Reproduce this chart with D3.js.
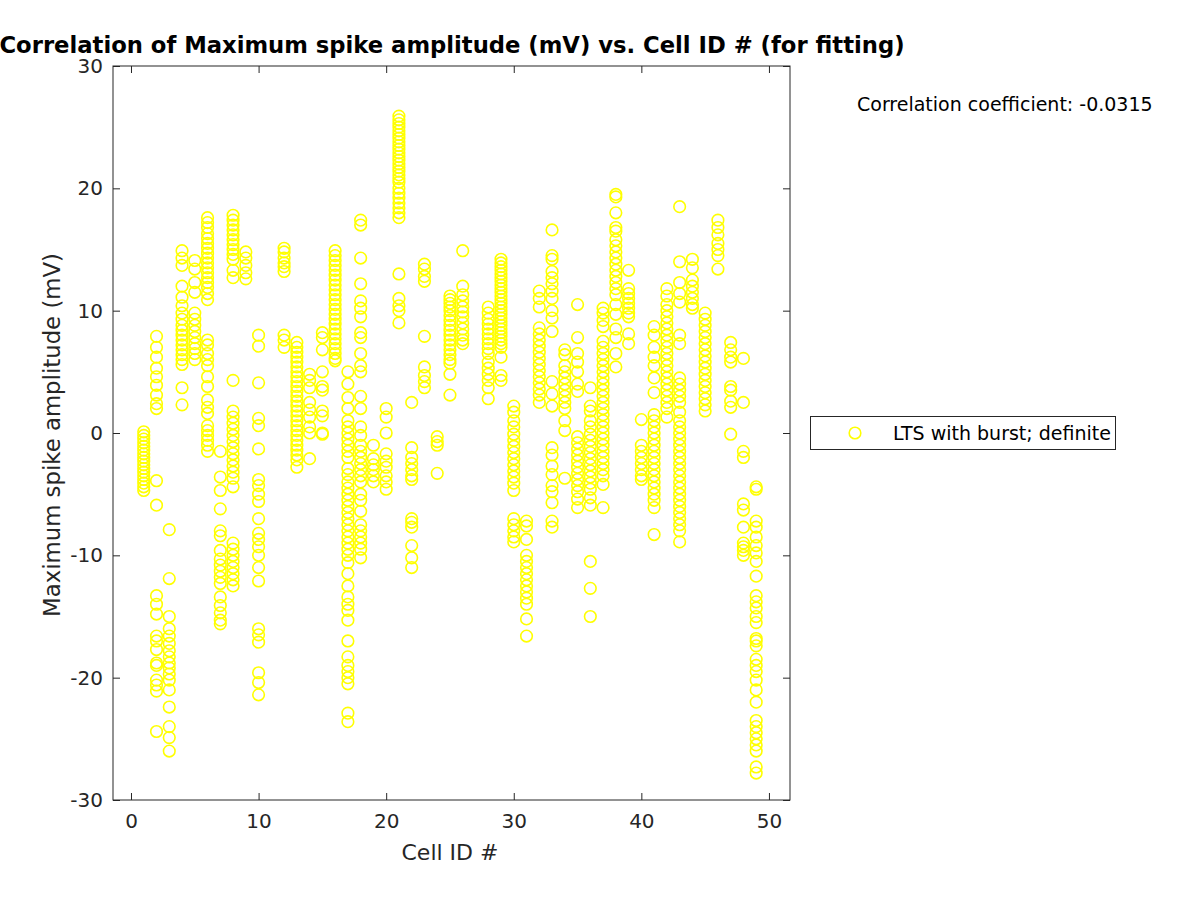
<!DOCTYPE html>
<html>
<head>
<meta charset="utf-8">
<script src="https://cdn.jsdelivr.net/npm/d3@7"></script>
<style>
  body { margin: 0; background: #fff; }
  svg { display: block; font-family: "DejaVu Sans", sans-serif; }
</style>
</head>
<body>
<svg id="chart" width="1200" height="900"></svg>
<script>
const titleText = "Correlation of Maximum spike amplitude (mV) vs. Cell ID # (for fitting)";
const xLabel = "Cell ID #";
const yLabel = "Maximum spike amplitude (mV)";
const legendLabel = "LTS with burst; definite";
const corrText = "Correlation coefficient: -0.0315";
const xTicks = [0, 10, 20, 30, 40, 50];
const yTicks = [-30, -20, -10, 0, 10, 20, 30];

const cellIds = [1,2,3,4,5,6,7,8,9,10,12,13,14,15,16,17,18,19,20,21,22,23,24,25,26,28,29,30,31,32,33,34,35,36,37,38,39,40,41,42,43,44,45,46,47,48,49];

const amplitudes = [
  [0.1,-0.2,-0.5,-0.8,-1.1,-1.4,-1.7,-2.0,-2.3,-2.6,-2.9,-3.2,-3.5,-3.8,-4.1,-4.4,-4.7],
  [7.9,7.0,6.2,5.3,4.6,3.9,3.1,2.4,2.0,-3.9,-5.9,-13.3,-14.0,-14.8,-16.6,-17.0,-17.7,-18.8,-19.0,-20.2,-20.6,-21.1,-24.4],
  [-7.9,-11.9,-15.0,-16.0,-16.6,-17.2,-17.8,-18.3,-18.8,-19.2,-19.7,-20.2,-21.0,-22.4,-24.0,-24.9,-26.0],
  [14.9,14.3,13.7,12.0,11.1,10.4,9.8,9.3,8.8,8.4,8.0,7.6,7.2,6.8,6.4,6.0,5.6,3.7,2.3],
  [14.1,13.4,12.3,11.5,9.8,9.3,8.8,8.3,7.8,7.3,6.9,6.5,6.0],
  [17.6,17.2,16.8,16.3,15.9,15.5,15.1,14.7,14.3,13.9,13.5,13.1,12.7,12.3,11.9,11.4,10.9,7.6,7.2,6.5,6.0,5.5,4.6,3.8,2.7,2.1,1.6,0.6,0.2,-0.2,-0.6,-1.0,-1.5],
  [-1.5,-3.6,-4.7,-6.2,-8.0,-8.4,-9.6,-10.3,-10.8,-11.3,-11.8,-12.3,-13.4,-14.1,-14.7,-15.3,-15.6],
  [17.8,17.4,17.0,16.6,16.2,15.8,15.4,15.0,14.6,14.2,13.3,12.7,4.3,1.8,1.3,0.8,0.3,-0.2,-0.7,-1.2,-1.7,-2.2,-2.7,-3.2,-3.7,-4.4,-9.0,-9.5,-10.0,-10.5,-11.0,-11.5,-12.0,-12.5],
  [14.8,14.3,13.7,13.1,12.6],
  [8.0,7.1,4.1,1.2,0.6,-1.3,-3.8,-4.3,-5.0,-5.6,-7.0,-8.2,-8.7,-9.3,-10.0,-11.0,-12.1,-16.0,-16.5,-17.1,-19.6,-20.4,-21.4],
  [15.1,14.8,14.3,13.9,13.6,13.2,8.0,7.6,7.0],
  [7.4,7.0,6.6,6.2,5.8,5.4,5.0,4.6,4.2,3.8,3.4,3.0,2.6,2.2,1.8,1.4,1.0,0.6,0.2,-0.2,-0.6,-1.0,-1.4,-1.8,-2.2,-2.8],
  [4.8,4.3,3.7,2.5,1.9,1.3,0.5,0.0,-2.1],
  [8.2,7.8,6.8,5.0,3.8,3.5,1.8,1.4,0.0,-0.1],
  [14.9,14.5,14.1,13.7,13.3,12.9,12.5,12.1,11.7,11.3,10.9,10.5,10.1,9.7,9.3,8.9,8.5,8.1,7.7,7.3,6.9,6.5,6.1,5.9],
  [5.0,4.0,2.9,2.0,1.0,0.5,0.0,-0.5,-1.0,-1.5,-2.0,-2.9,-3.4,-4.0,-4.5,-5.0,-5.5,-6.0,-6.5,-7.0,-7.5,-8.0,-8.5,-9.0,-9.5,-10.0,-10.6,-11.5,-12.5,-13.4,-14.0,-14.5,-15.3,-17.0,-18.3,-19.0,-19.5,-20.0,-20.5,-22.9,-23.6],
  [17.4,17.0,14.3,12.2,10.8,10.2,9.5,8.2,7.8,6.5,5.5,5.0,3.0,2.0,0.5,-0.2,-1.0,-1.5,-2.0,-2.5,-3.0,-3.5,-4.0,-5.0,-5.5,-6.4,-7.5,-8.0,-8.5,-9.0,-9.5,-10.2],
  [-1.0,-2.1,-2.6,-3.0,-3.5,-4.0],
  [2.0,1.3,0.0,-1.7,-2.3,-2.8,-3.5,-4.0,-4.6],
  [25.9,25.6,25.3,25.0,24.7,24.4,24.1,23.8,23.5,23.2,22.9,22.6,22.3,22.0,21.7,21.4,21.1,20.8,20.5,20.0,19.6,19.2,18.8,18.4,18.0,17.6,13.0,11.0,10.4,10.0,9.0],
  [2.5,-1.2,-2.0,-2.5,-3.0,-3.5,-3.8,-7.0,-7.3,-7.7,-9.2,-10.2,-11.0],
  [13.8,13.4,12.8,12.4,7.9,5.4,4.7,4.2,3.7],
  [-0.3,-0.7,-1.0,-3.3],
  [11.2,10.9,10.6,10.3,10.0,9.6,9.2,8.8,8.4,8.0,7.6,7.2,6.8,6.4,6.0,5.7,4.8,3.1],
  [14.9,12.0,11.3,10.8,10.3,9.9,9.5,9.0,8.5,8.0,7.6,7.3],
  [10.3,9.8,9.3,8.9,8.5,8.1,7.7,7.3,6.9,6.5,5.8,5.3,4.8,4.3,3.7,2.8],
  [14.2,13.9,13.6,13.3,13.0,12.7,12.4,12.1,11.8,11.5,11.2,10.9,10.6,10.3,10.0,9.7,9.4,9.1,8.8,8.5,8.2,7.9,7.6,7.3,7.0,6.2,4.7,4.3],
  [2.2,1.7,1.0,0.5,-0.1,-0.6,-1.1,-1.6,-2.1,-2.6,-3.1,-3.6,-4.1,-4.7,-7.0,-7.5,-8.0,-8.5,-8.9],
  [-7.2,-7.6,-8.7,-10.0,-10.5,-11.0,-11.5,-12.0,-12.5,-13.0,-13.5,-14.0,-15.2,-16.6],
  [11.6,11.0,10.3,8.6,8.1,7.6,7.1,6.6,6.1,5.6,5.1,4.6,4.1,3.6,3.1,2.5],
  [16.6,14.5,14.2,13.2,12.7,12.2,11.6,11.0,10.0,9.4,8.3,4.2,3.2,2.2,-1.2,-1.8,-2.7,-3.4,-4.3,-4.8,-5.7,-7.2,-7.7],
  [6.8,6.4,5.5,5.0,4.5,4.0,3.5,3.0,2.5,2.0,1.0,0.2,-3.7],
  [10.5,7.8,6.5,5.8,5.0,4.0,3.4,-0.3,-0.8,-1.3,-1.8,-2.3,-2.8,-3.3,-3.8,-4.3,-4.8,-5.4,-6.1],
  [3.7,2.2,1.8,1.0,0.5,-0.1,-0.6,-1.1,-1.6,-2.1,-2.6,-3.1,-3.6,-4.1,-4.6,-5.3,-5.9,-10.5,-12.7,-15.0],
  [10.2,9.8,9.2,8.7,7.5,7.0,6.5,6.0,5.5,5.0,4.5,4.0,3.5,3.0,2.5,2.0,1.5,1.0,0.5,0.0,-0.5,-1.0,-1.5,-2.0,-2.5,-3.0,-3.5,-4.2,-6.1],
  [19.5,19.3,18.0,16.8,16.5,15.8,15.3,14.8,14.3,13.8,13.3,12.8,12.3,11.8,11.3,10.5,9.7,8.5,7.8,6.5,5.4],
  [13.3,11.8,11.4,11.0,10.6,10.2,9.8,9.5,8.1,7.3],
  [1.1,-1.0,-1.5,-2.0,-2.5,-3.0,-3.5,-3.8],
  [8.7,8.0,7.0,6.2,5.5,4.5,3.3,1.5,1.0,0.5,0.0,-0.5,-1.0,-1.5,-2.0,-2.5,-3.0,-3.5,-4.0,-4.5,-5.0,-5.5,-6.1,-8.3],
  [11.8,11.2,10.5,10.0,9.5,9.0,8.5,8.0,7.5,7.0,6.5,6.0,5.5,5.0,4.5,4.0,3.5,3.0,2.5,2.0,1.3],
  [18.5,14.0,12.3,11.4,10.7,8.0,7.3,4.5,4.0,3.5,3.0,2.5,1.7,1.0,0.5,0.0,-0.5,-1.0,-1.5,-2.0,-2.5,-3.0,-3.5,-4.0,-4.5,-5.0,-5.5,-6.0,-6.5,-7.0,-7.5,-8.0,-8.9],
  [14.2,13.5,12.5,12.0,11.5,11.0,10.5,10.2],
  [9.8,9.3,8.8,8.3,7.8,7.3,6.8,6.3,5.8,5.3,4.8,4.3,3.8,3.3,2.8,2.3,1.8],
  [17.4,16.8,16.2,15.5,15.0,14.5,13.4],
  [7.4,6.8,6.2,5.8,3.8,3.5,2.6,2.1,-0.1],
  [6.1,2.5,-1.5,-2.0,-5.8,-6.3,-7.7,-9.0,-9.3,-9.6,-10.0],
  [-4.4,-4.6,-7.2,-7.7,-8.5,-9.2,-9.8,-10.5,-11.7,-13.3,-13.8,-14.3,-15.0,-15.5,-16.8,-17.0,-17.4,-18.5,-19.0,-19.5,-20.2,-21.0,-22.0,-23.5,-24.0,-24.5,-25.0,-25.5,-26.0,-27.3,-27.8]
];

const points = [];
cellIds.forEach((id, i) => amplitudes[i].forEach(v => points.push({x: id, y: v})));

const svg = d3.select("#chart");
const mLeft = 113, mRight = 790, mTop = 66, mBottom = 800;
const x = d3.scaleLinear().domain([-1.41, 51.65]).range([mLeft, mRight]);
const y = d3.scaleLinear().domain([-30, 30]).range([mBottom, mTop]);

const axisColor = "#262626";
const yellow = "#ffff00";
const fmt = d => String(d);

// points
svg.append("g").selectAll("circle").data(points).join("circle")
  .attr("cx", d => x(d.x)).attr("cy", d => y(d.y)).attr("r", 5.8)
  .attr("fill", "none").attr("stroke", yellow).attr("stroke-width", 1.6);

// axes
const tickLen = 7;
const gB = svg.append("g").attr("transform", `translate(0,${mBottom})`)
  .call(d3.axisBottom(x).tickValues(xTicks).tickFormat(fmt).tickSizeInner(-tickLen).tickSizeOuter(0).tickPadding(14));
const gT = svg.append("g").attr("transform", `translate(0,${mTop})`)
  .call(d3.axisTop(x).tickValues(xTicks).tickSizeInner(-tickLen).tickSizeOuter(0).tickFormat(""));
const gL = svg.append("g").attr("transform", `translate(${mLeft},0)`)
  .call(d3.axisLeft(y).tickValues(yTicks).tickFormat(fmt).tickSizeInner(-tickLen).tickSizeOuter(0).tickPadding(10));
const gR = svg.append("g").attr("transform", `translate(${mRight},0)`)
  .call(d3.axisRight(y).tickValues(yTicks).tickSizeInner(-tickLen).tickSizeOuter(0).tickFormat(""));
[gB, gT, gL, gR].forEach(g => {
  g.select(".domain").remove();
  g.selectAll("line").attr("stroke", axisColor);
  g.selectAll("text").attr("fill", axisColor).style("font-size", "20px").style("font-family", "DejaVu Sans, sans-serif");
});
svg.append("rect").attr("x", mLeft).attr("y", mTop).attr("width", mRight - mLeft).attr("height", mBottom - mTop)
  .attr("fill", "none").attr("stroke", axisColor).attr("stroke-width", 1);

// labels
svg.append("text").attr("x", 452).attr("y", 53).attr("text-anchor", "middle")
  .style("font-size", "22.7px").style("font-weight", "bold").attr("fill", "#000").text(titleText);
svg.append("text").attr("x", 450).attr("y", 860).attr("text-anchor", "middle")
  .style("font-size", "22px").attr("fill", axisColor).text(xLabel);
svg.append("text").attr("transform", "translate(60,435) rotate(-90)").attr("text-anchor", "middle")
  .style("font-size", "22.8px").attr("fill", axisColor).text(yLabel);
svg.append("text").attr("x", 857).attr("y", 111)
  .style("font-size", "19px").attr("fill", "#000").text(corrText);

// legend
svg.append("rect").attr("x", 810.5).attr("y", 416.5).attr("width", 305).attr("height", 33)
  .attr("fill", "#fff").attr("stroke", axisColor).attr("stroke-width", 1);
svg.append("circle").attr("cx", 855).attr("cy", 433).attr("r", 5.8)
  .attr("fill", "none").attr("stroke", yellow).attr("stroke-width", 1.6);
svg.append("text").attr("x", 893).attr("y", 440)
  .style("font-size", "19px").attr("fill", "#000").text(legendLabel);
</script>
</body>
</html>
